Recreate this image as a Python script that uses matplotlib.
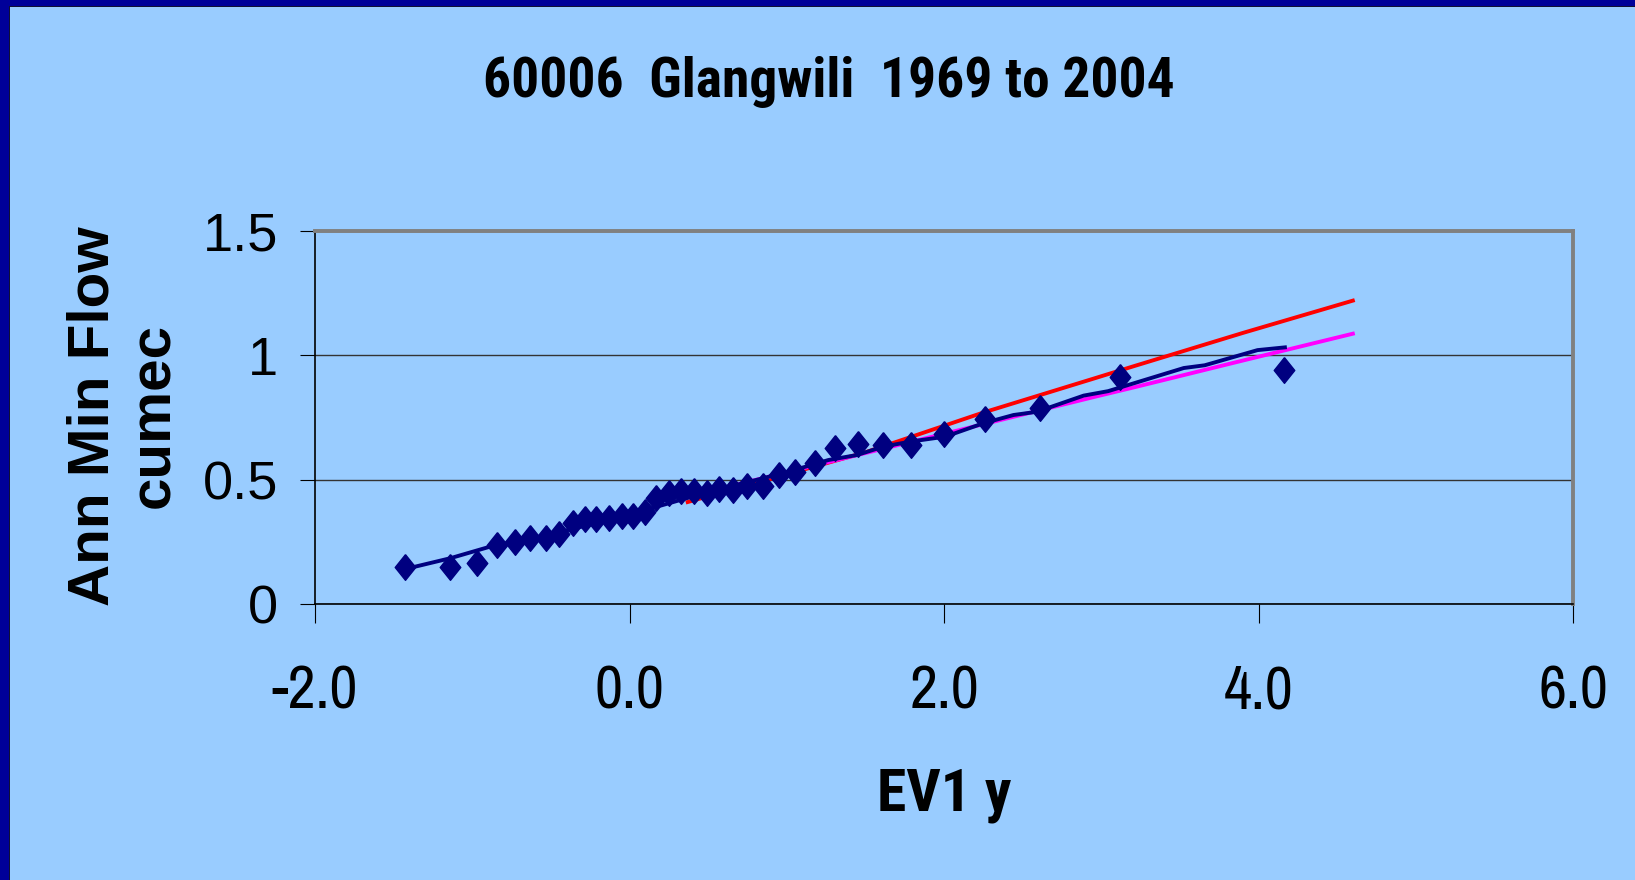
import matplotlib
matplotlib.use('Agg')
import matplotlib.pyplot as plt
from matplotlib.patches import Rectangle
from matplotlib import font_manager

# EV1 reduced variate (plotting positions) and annual minimum flows, cumec
ev1_y = [-1.43, -1.14, -0.97, -0.84, -0.73, -0.63, -0.53, -0.45, -0.36, -0.28,
         -0.21, -0.13, -0.05, 0.02, 0.10, 0.17, 0.25, 0.33, 0.41, 0.49,
         0.57, 0.66, 0.75, 0.85, 0.95, 1.05, 1.18, 1.31, 1.45, 1.61,
         1.79, 2.00, 2.26, 2.61, 3.12, 4.16]
ann_min = [0.148, 0.148, 0.164, 0.237, 0.251, 0.267, 0.267, 0.281, 0.327, 0.340,
           0.340, 0.344, 0.354, 0.354, 0.371, 0.425, 0.445, 0.456, 0.456, 0.448,
           0.461, 0.460, 0.474, 0.474, 0.519, 0.532, 0.566, 0.626, 0.643, 0.639,
           0.639, 0.684, 0.743, 0.787, 0.913, 0.942]

# fitted curve (navy)
fit_x = [-1.43, -1.14, -0.89, -0.5, 0.0, 0.5, 1.0, 1.265, 1.446, 1.615, 1.785,
         2.008, 2.251, 2.442, 2.591, 2.888, 3.044, 3.525, 3.658, 3.994, 4.168]
fit_q = [0.14, 0.184, 0.23, 0.28, 0.36, 0.45, 0.53, 0.579, 0.599, 0.633, 0.653,
         0.673, 0.727, 0.76, 0.773, 0.838, 0.856, 0.949, 0.96, 1.021, 1.032]

# return period curves (red / magenta)
rp_x = [0.37, 1.5, 2.25, 2.97, 3.2, 3.9, 4.6]
red_q = [0.41, 0.61, 0.77, 0.91, 0.955, 1.09, 1.22]
mag_q = [0.432, 0.607, 0.723, 0.835, 0.87, 0.979, 1.087]

x_ticks = [-2.0, 0.0, 2.0, 4.0, 6.0]
y_ticks = [0, 0.5, 1, 1.5]
y_tick_labels = ['0', '0.5', '1', '1.5']


def has_bold(name):
    for f in font_manager.fontManager.ttflist:
        if f.name != name:
            continue
        w = f.weight
        if isinstance(w, str):
            if w in ('bold', 'heavy', 'black', 'extra bold', 'semibold', 'demibold'):
                return True
        elif w >= 600:
            return True
    return False


names = {f.name for f in font_manager.fontManager.ttflist}
narrow = 'Archivo Narrow' if 'Archivo Narrow' in names else 'Liberation Sans'
narrow_bold = 'Liberation Sans'
for c in ['Roboto Condensed', 'IBM Plex Sans Condensed', 'Asap Condensed',
          'Fira Sans Condensed', 'Barlow Semi Condensed']:
    if has_bold(c):
        narrow_bold = c
        break
plt.rcParams['font.family'] = ['Liberation Sans', 'DejaVu Sans']

W, H = 1635, 880
fig = plt.figure(figsize=(W / 100, H / 100), dpi=100, facecolor='#99CCFF')

# slide border, left and top
fig.add_artist(Rectangle((0, 0), 9 / W, 1, transform=fig.transFigure, color='#000099', lw=0))
fig.add_artist(Rectangle((0, 1 - 6 / H), 1, 6 / H, transform=fig.transFigure, color='#000099', lw=0))
fig.add_artist(Rectangle((9 / W, 0), 1.2 / W, 1 - 6 / H, transform=fig.transFigure, color='#111133', lw=0))
fig.add_artist(Rectangle((9 / W, 1 - 7.2 / H), 1, 1.2 / H, transform=fig.transFigure, color='#111133', lw=0))

ax = fig.add_axes([315 / W, 1 - 604 / H, (1573 - 315) / W, (604 - 231) / H])
ax.set_facecolor('#99CCFF')

diamond = [(0, 1), (0.8, 0), (0, -1), (-0.8, 0), (0, 1)]

ax.plot(rp_x, red_q, color='#FF0000', lw=2.8, zorder=3)
ax.plot(rp_x, mag_q, color='#FF00FF', lw=2.8, zorder=3)
ax.plot(fit_x, fit_q, color='#000080', lw=2.8, zorder=4)
ax.plot(ev1_y, ann_min, linestyle='none', marker=diamond, markersize=18.5,
        color='#000080', zorder=5, clip_on=False)

ax.set_xlim(-2, 6)
ax.set_ylim(0, 1.5)
ax.set_xticks(x_ticks)
ax.set_xticklabels(['%.1f' % v for v in x_ticks], family=[narrow, 'DejaVu Sans'], fontsize=44)
ax.set_yticks(y_ticks)
ax.set_yticklabels(y_tick_labels, fontsize=39)
ax.tick_params(axis='x', direction='out', length=13.7, width=0.8, pad=30)
ax.tick_params(axis='y', direction='out', length=10.8, width=0.8, pad=16)

ax.grid(axis='y', color='#333333', lw=1.0)
ax.set_axisbelow(True)
for s in ['top', 'right']:
    ax.spines[s].set_color('#808080')
    ax.spines[s].set_linewidth(2.8)
for s in ['left', 'bottom']:
    ax.spines[s].set_color('#000000')
    ax.spines[s].set_linewidth(1.2)

fig.text(829 / W, 1 - 97 / H, '60006  Glangwili  1969 to 2004', ha='center',
         va='baseline', fontsize=40, fontweight='bold', family=[narrow_bold, 'DejaVu Sans'])
fig.text(944 / W, 1 - 810 / H, 'EV1 y', ha='center', va='baseline',
         fontsize=43, fontweight='bold', family=[narrow_bold, 'DejaVu Sans'])
fig.text(124 / W, 1 - 416 / H, 'Ann Min Flow\ncumec', ha='center', va='center',
         rotation=90, multialignment='center', fontsize=42, fontweight='bold',
         linespacing=1.15)

fig.savefig('out.png', dpi=100, facecolor=fig.get_facecolor())
